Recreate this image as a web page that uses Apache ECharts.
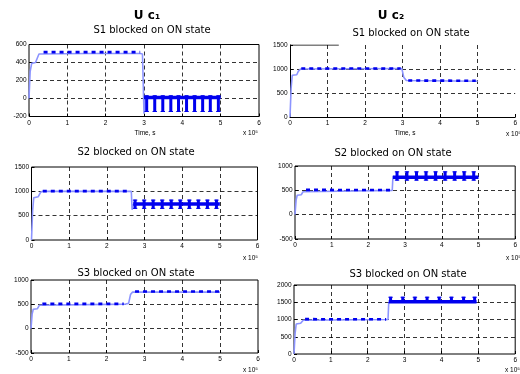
<!DOCTYPE html>
<html><head><meta charset="utf-8">
<script src="https://cdn.jsdelivr.net/npm/echarts@6/dist/echarts.min.js"></script>
<style>html,body{margin:0;padding:0;background:#fff}#c{width:520px;height:374px}</style>
</head><body><div id="c"></div>
<script>
// ---------- data (time axis in units of 1e5) ----------
const xTicks = [0, 1, 2, 3, 4, 5, 6];
const colTitles = ['U c\u2081', 'U c\u2082'];
const panelTitles = ['S1 blocked on ON state', 'S1 blocked on ON state',
                     'S2 blocked on ON state', 'S2 blocked on ON state',
                     'S3 blocked on ON state', 'S3 blocked on ON state'];
const yTicks1 = [-200, 0, 200, 400, 600];
const yTicks2 = [0, 500, 1000, 1500];
const yTicks3 = [0, 500, 1000, 1500];
const yTicks4 = [-500, 0, 500, 1000];
const yTicks5 = [-500, 0, 500, 1000];
const yTicks6 = [0, 500, 1000, 1500, 2000];

// Panel 1: Uc1, S1 blocked
const trace1 = [[0,0],[0.03,300],[0.07,390],[0.17,400],[0.22,420],[0.26,495],[1.5,500],[2.9,500],[2.96,495],[3.0,-170],[3.02,10]];
const ripple1 = [[0.38,515],[2.9,515]];
const band1 = [[3.0,12],[5.0,12]];
const spikes1 = [[3.07,-150,35],[3.28,-150,35],[3.49,-150,35],[3.70,-150,35],[3.90,-150,35],[4.11,-150,35],[4.32,-150,35],[4.53,-150,35],[4.73,-150,35],[4.94,-150,35]];

// Panel 2: Uc2, S1 blocked
const trace2 = [[0,0],[0.03,600],[0.06,870],[0.18,880],[0.22,950],[0.28,1000],[2.98,1010],[3.0,1010],[3.03,830],[3.1,760],[5.0,745]];
const ripple2 = [[0.3,1010],[2.95,1010],[2.96,'-'],[3.15,760],[4.95,755]];
const topEdge2 = [[0,1500],[1.3,1500]];

// Panel 3: Uc1, S2 blocked
const trace3 = [[0,0],[0.03,600],[0.06,870],[0.18,890],[0.24,980],[0.3,1000],[2.65,1000],[2.67,620],[2.7,740]];
const ripple3 = [[0.3,1005],[2.6,1005]];
const band3 = [[2.7,740],[5.0,740]];
const spikes3 = [[2.75,640,830],[2.99,640,830],[3.23,640,830],[3.47,640,830],[3.71,640,830],[3.95,640,830],[4.19,640,830],[4.43,640,830],[4.67,640,830],[4.91,640,830]];

// Panel 4: Uc2, S2 blocked
const trace4 = [[0,0],[0.03,300],[0.06,400],[0.17,410],[0.22,470],[0.27,500],[2.65,500],[2.67,800]];
const ripple4 = [[0.3,510],[2.6,505]];
const band4 = [[2.67,770],[5.0,770]];
const spikes4 = [[2.78,700,890],[3.05,700,890],[3.31,700,890],[3.57,700,890],[3.83,700,890],[4.09,700,890],[4.35,700,890],[4.61,700,890],[4.87,700,890]];

// Panel 5: Uc1, S3 blocked
const trace5 = [[0,0],[0.03,300],[0.06,400],[0.17,410],[0.22,480],[0.27,500],[2.5,505],[2.58,520],[2.63,700],[2.68,750],[5.0,750]];
const ripple5 = [[0.3,510],[2.45,510],[2.46,'-'],[2.75,765],[4.98,765]];

// Panel 6: Uc2, S3 blocked
const trace6 = [[0,0],[0.03,600],[0.06,870],[0.18,890],[0.25,980],[0.3,1000],[2.55,1000],[2.57,1500]];
const ripple6 = [[0.3,1010],[2.5,1005]];
const band6 = [[2.57,1515],[4.95,1515]];
const spikes6 = [[2.62,1480,1660],[2.95,1480,1660],[3.28,1480,1660],[3.61,1480,1660],[3.94,1480,1660],[4.27,1480,1660],[4.60,1480,1660],[4.90,1480,1660]];

// ---------- layout / styles ----------
const grids = [
  {left:29,  top:44.5, width:230, height:72},
  {left:290, top:45,   width:232, height:72},
  {left:31.5,top:167,  width:226, height:73},
  {left:295, top:166,  width:226, height:73},
  {left:31,  top:280,  width:227, height:73},
  {left:294, top:285,  width:226, height:69}
];
const yTickSets = [yTicks1, yTicks2, yTicks3, yTicks4, yTicks5, yTicks6];
const LIGHT = '#8c94ff', DARK = '#0000ee';
const labelFont = {fontFamily:'Liberation Sans Narrow, Liberation Sans, Arial', fontSize:6.5, color:'#000', formatter:function(v){return String(v);}};
const gridDash = {color:'#000', width:0.8, type:[4,3]};

const option = {
  animation:false,
  backgroundColor:'#fff',
  grid: grids.map((g,i)=>Object.assign({show: i!==1, borderColor:'#000', borderWidth:1, containLabel:false}, g)),
  xAxis: grids.map((g,i)=>({
    type:'value', gridIndex:i, min:xTicks[0], max:xTicks[xTicks.length-1], interval:1,
    axisLine:{show:i===1, onZero:false, lineStyle:{color:'#000', width:1}},
    axisTick:{show:true, inside:true, length:3, lineStyle:{color:'#000'}},
    axisLabel:Object.assign({margin:3}, labelFont),
    splitLine:{show:true, showMinLine:false, showMaxLine:false, lineStyle:gridDash}
  })),
  yAxis: yTickSets.map((t,i)=>({
    type:'value', gridIndex:i, min:t[0], max:t[t.length-1], interval:t[1]-t[0],
    axisLine:{show:i===1, onZero:false, lineStyle:{color:'#000', width:1}},
    axisTick:{show:true, inside:true, length:3, lineStyle:{color:'#000'}},
    axisLabel:Object.assign({margin:2.5}, labelFont),
    splitLine:{show:true, showMinLine:false, showMaxLine:false, lineStyle:gridDash}
  })),
  series: [],
  graphic: []
};

function lineS(i, data, color, width, type, z){
  return {type:'line', xAxisIndex:i, yAxisIndex:i, data:data, showSymbol:false, symbol:'none',
    silent:true, z:z||2, lineStyle:{color:color, width:width, type:type||'solid'}, clip:true};
}
function spikeS(i, data){
  return {type:'custom', xAxisIndex:i, yAxisIndex:i, data:data, silent:true, z:5,
    encode:{x:0, y:[1,2]},
    renderItem:function(params, api){
      const top = api.coord([api.value(0), api.value(2)]);
      const bot = api.coord([api.value(0), api.value(1)]);
      return {type:'group', children:[
        {type:'rect', shape:{x:top[0]-1.5, y:top[1], width:3, height:bot[1]-top[1]}, style:{fill:DARK}},
        {type:'rect', shape:{x:top[0]-2.2, y:top[1], width:4.4, height:1}, style:{fill:DARK}},
        {type:'rect', shape:{x:top[0]-2.2, y:bot[1]-1, width:4.4, height:1}, style:{fill:DARK}}
      ]};
    }};
}

const traces = [trace1, trace2, trace3, trace4, trace5, trace6];
const ripples = [ripple1, ripple2, ripple3, ripple4, ripple5, ripple6];
traces.forEach((t,i)=>{
  option.series.push(lineS(i, t, LIGHT, 1.6, 'solid', 2));
  option.series.push(lineS(i, ripples[i], DARK, 2.6, [4,4], 3));
});
[[0,band1],[2,band3],[3,band4],[5,band6]].forEach(([i,b])=>{
  option.series.push(lineS(i, b, DARK, 3.5, 'solid', 4));
});
[[0,spikes1],[2,spikes3],[3,spikes4],[5,spikes6]].forEach(([i,s])=>{
  option.series.push(spikeS(i, s));
});
option.series.push(lineS(1, topEdge2, '#000', 1, 'solid', 6));

// ---------- texts ----------
function txt(x, y, text, font, align){
  return {type:'text', x:x, y:y, silent:true, z:10,
    style:{text:text, x:0, y:0, align:align||'center', verticalAlign:'middle', font:font, fill:'#000'}};
}
const titleFont = 'bold 12px "DejaVu Sans", sans-serif';
const subFont = '10px "DejaVu Sans", sans-serif';
const smallFont = '6.5px "Liberation Sans", Arial, sans-serif';
option.graphic.push(txt(147, 16, colTitles[0], titleFont));
option.graphic.push(txt(391, 16, colTitles[1], titleFont));
const titlePos = [[152,30],[411,33],[136,152],[393,153],[136,273],[408,274]];
titlePos.forEach((p,i)=>option.graphic.push(txt(p[0], p[1], panelTitles[i], subFont)));
option.graphic.push(txt(145, 133, 'Time, s', smallFont));
option.graphic.push(txt(405, 133, 'Time, s', smallFont));
const expPos = [[258,133],[521,134],[258,258],[521,258],[258,370],[520,370]];
expPos.forEach(p=>option.graphic.push(txt(p[0], p[1], 'x 10\u2075', smallFont, 'right')));

const chart = echarts.init(document.getElementById('c'), null, {renderer:'canvas'});
chart.setOption(option);
</script></body></html>
